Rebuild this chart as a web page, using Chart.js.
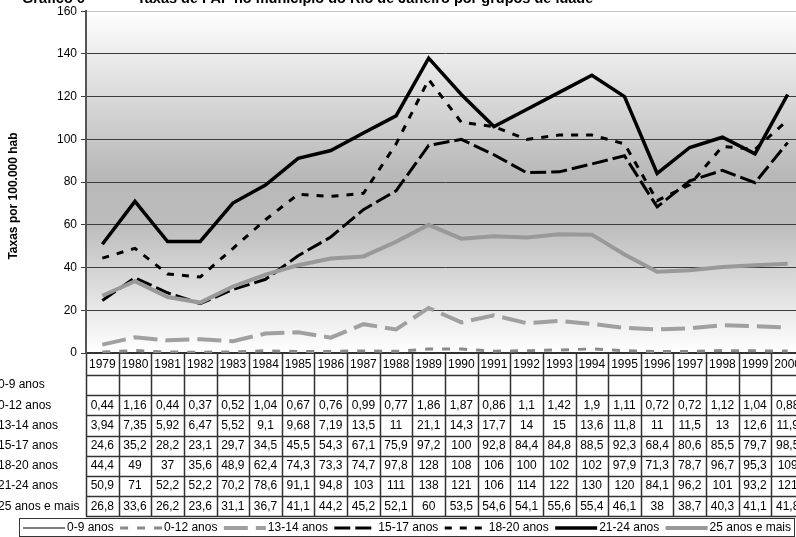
<!DOCTYPE html>
<html>
<head>
<meta charset="utf-8">
<script src="https://cdn.jsdelivr.net/npm/chart.js@4.4.0/dist/chart.umd.min.js"></script>
<style>
    html, body { margin: 0; padding: 0; background: #fff; overflow: hidden; }
    #wrap { position: relative; width: 804px; height: 537px; }
</style>
</head>
<body>
<div id="wrap"><canvas id="grafico" width="804" height="537"></canvas></div>
<script>
const anos = ['1979', '1980', '1981', '1982', '1983', '1984', '1985', '1986', '1987', '1988', '1989',
    '1990', '1991', '1992', '1993', '1994', '1995', '1996', '1997', '1998', '1999', '2000'];

const nomes = ['0-9 anos', '0-12 anos', '13-14 anos', '15-17 anos', '18-20 anos', '21-24 anos', '25 anos e mais'];

// linha 0-9 anos sem dados na tabela
const taxa0a9 = [null, null, null, null, null, null, null, null, null, null, null,
    null, null, null, null, null, null, null, null, null, null, null];
const taxa0a12 = [0.44, 1.16, 0.44, 0.37, 0.52, 1.04, 0.67, 0.76, 0.99, 0.77, 1.86,
    1.87, 0.86, 1.1, 1.42, 1.9, 1.11, 0.72, 0.72, 1.12, 1.04, 0.88];
const taxa13a14 = [3.94, 7.35, 5.92, 6.47, 5.52, 9.1, 9.68, 7.19, 13.5, 11, 21.1,
    14.3, 17.7, 14, 15, 13.6, 11.8, 11, 11.5, 13, 12.6, 11.9];
const taxa15a17 = [24.6, 35.2, 28.2, 23.1, 29.7, 34.5, 45.5, 54.3, 67.1, 75.9, 97.2,
    100, 92.8, 84.4, 84.8, 88.5, 92.3, 68.4, 80.6, 85.5, 79.7, 98.5];
const taxa18a20 = [44.4, 49, 37, 35.6, 48.9, 62.4, 74.3, 73.3, 74.7, 97.8, 128,
    108, 106, 100, 102, 102, 97.9, 71.3, 78.7, 96.7, 95.3, 109];
const taxa21a24 = [50.9, 71, 52.2, 52.2, 70.2, 78.6, 91.1, 94.8, 103, 111, 138,
    121, 106, 114, 122, 130, 120, 84.1, 96.2, 101, 93.2, 121];
const taxa25mais = [26.8, 33.6, 26.2, 23.6, 31.1, 36.7, 41.1, 44.2, 45.2, 52.1, 60,
    53.5, 54.6, 54.1, 55.6, 55.4, 46.1, 38, 38.7, 40.3, 41.1, 41.8];

const yTicks = [0, 20, 40, 60, 80, 100, 120, 140, 160];

const series = [taxa0a9, taxa0a12, taxa13a14, taxa15a17, taxa18a20, taxa21a24, taxa25mais];
const estilos = [
    { color: '#000000', width: 1, dash: [] },
    { color: '#8a8a8a', width: 3, dash: [8, 9] },
    { color: '#a0a0a0', width: 4, dash: [24, 8] },
    { color: '#000000', width: 3, dash: [16, 5] },
    { color: '#000000', width: 3, dash: [7, 8] },
    { color: '#000000', width: 3.5, dash: [] },
    { color: '#999999', width: 4, dash: [] }
];

const FONTE = "'Liberation Sans', Arial, sans-serif";

const datasets = series.map((dados, i) => ({
    label: nomes[i],
    data: dados,
    borderColor: estilos[i].color,
    borderWidth: estilos[i].width,
    borderDash: estilos[i].dash,
    pointRadius: 0,
    tension: 0,
    fill: false,
    order: series.length - i
}));

const fundo = {
    id: 'fundo',
    beforeDraw(chart) {
        const { ctx, chartArea: a } = chart;
        const g = ctx.createLinearGradient(0, a.top, 0, a.bottom);
        g.addColorStop(0, '#ffffff');
        g.addColorStop(0.48, '#b8b8b8');
        g.addColorStop(0.62, '#bcbcbc');
        g.addColorStop(1, '#ffffff');
        ctx.save();
        ctx.fillStyle = g;
        ctx.fillRect(a.left, a.top, a.right - a.left, a.bottom - a.top);
        ctx.restore();
    }
};

const fmt = (v) => v === null ? '' : String(v).replace('.', ',');

const tabela = {
    id: 'tabela',
    afterDraw(chart) {
        const { ctx, chartArea: a } = chart;
        const x = chart.scales.x;
        const w = (a.right - a.left) / anos.length;
        const topo = a.bottom;
        const linha0 = 375;
        const altLinha = 20.2;
        const fim = linha0 + altLinha * nomes.length;

        ctx.save();
        // titulo (cortado no topo, como no original)
        ctx.fillStyle = '#000';
        ctx.font = 'bold 14.5px ' + FONTE;
        ctx.textBaseline = 'alphabetic';
        ctx.textAlign = 'left';
        ctx.fillText('Gráfico 6', 22, 3);
        ctx.fillText('Taxas de PAF no município do Rio de Janeiro por grupos de idade', 137, 3);

        // titulo eixo y
        ctx.save();
        ctx.translate(14, 196);
        ctx.rotate(-Math.PI / 2);
        ctx.font = 'bold 12px ' + FONTE;
        ctx.textAlign = 'center';
        ctx.textBaseline = 'middle';
        ctx.fillText('Taxas por 100.000 hab', 0, 0);
        ctx.restore();

        // grade da tabela
        ctx.strokeStyle = '#333';
        ctx.lineWidth = 1.5;
        ctx.beginPath();
        for (let k = 0; k <= anos.length; k++) {
            const px = Math.round(a.left + k * w) + 0.5;
            ctx.moveTo(px, topo);
            ctx.lineTo(px, fim);
        }
        for (let r = 0; r <= nomes.length; r++) {
            const py = Math.round(linha0 + r * altLinha) + 0.5;
            ctx.moveTo(a.left, py);
            ctx.lineTo(a.right, py);
        }
        ctx.stroke();

        ctx.font = '12px ' + FONTE;
        ctx.textBaseline = 'middle';
        ctx.textAlign = 'center';
        anos.forEach((ano, i) => {
            ctx.fillText(ano, x.getPixelForValue(i), (topo + linha0) / 2 + 1);
        });
        series.forEach((dados, r) => {
            const cy = linha0 + altLinha * (r + 0.5);
            ctx.textAlign = 'left';
            ctx.fillText(nomes[r], -2, cy);
            ctx.textAlign = 'center';
            dados.forEach((v, i) => {
                ctx.fillText(fmt(v), x.getPixelForValue(i), cy);
            });
        });

        // legenda
        const lx0 = 19, lx1 = 794, ly0 = 518, ly1 = 536;
        ctx.strokeStyle = '#333';
        ctx.lineWidth = 1;
        ctx.strokeRect(lx0 + 0.5, ly0 + 0.5, lx1 - lx0, ly1 - ly0);
        const simb = 42, esp = 2;
        const larguras = nomes.map(n => ctx.measureText(n).width);
        const total = larguras.reduce((s, l) => s + l + simb + esp, 0);
        const inicio = 23, final = 791;
        const gap = (final - inicio - total) / (nomes.length - 1);
        let cx = inicio;
        const cy = (ly0 + ly1) / 2 + 1;
        nomes.forEach((n, i) => {
            const e = estilos[i];
            ctx.save();
            ctx.strokeStyle = e.color;
            ctx.lineWidth = e.width;
            ctx.setLineDash(e.dash);
            ctx.beginPath();
            ctx.moveTo(cx, cy);
            ctx.lineTo(cx + simb, cy);
            ctx.stroke();
            ctx.restore();
            ctx.textAlign = 'left';
            ctx.fillStyle = '#000';
            ctx.fillText(n, cx + simb + esp, cy);
            cx += simb + esp + larguras[i] + gap;
        });
        ctx.restore();
    }
};

const ctx = document.getElementById('grafico').getContext('2d');
const grafico = new Chart(ctx, {
    type: 'line',
    data: { labels: anos, datasets: datasets },
    options: {
        responsive: false,
        animation: false,
        devicePixelRatio: 1,
        layout: { padding: { left: 0, top: 7, right: 0, bottom: 184 } },
        plugins: {
            legend: { display: false },
            tooltip: { enabled: false },
            title: { display: false }
        },
        scales: {
            x: {
                type: 'category',
                offset: true,
                grid: { display: false, drawTicks: false },
                ticks: { display: false },
                border: { display: true, color: '#333', width: 2 }
            },
            y: {
                min: 0,
                max: 160,
                afterFit(scale) { scale.width = 86; },
                afterBuildTicks(scale) { scale.ticks = yTicks.map(v => ({ value: v })); },
                ticks: {
                    color: '#000',
                    font: { family: FONTE, size: 12 },
                    padding: 4
                },
                grid: {
                    color: (c) => c.tick && c.tick.value === 160 ? '#c8c8c8' : '#3c3c3c',
                    tickColor: '#3c3c3c',
                    tickLength: 5,
                    lineWidth: 1
                },
                border: { display: true, color: '#555', width: 2 }
            }
        }
    },
    plugins: [fundo, tabela]
});
</script>
</body>
</html>
